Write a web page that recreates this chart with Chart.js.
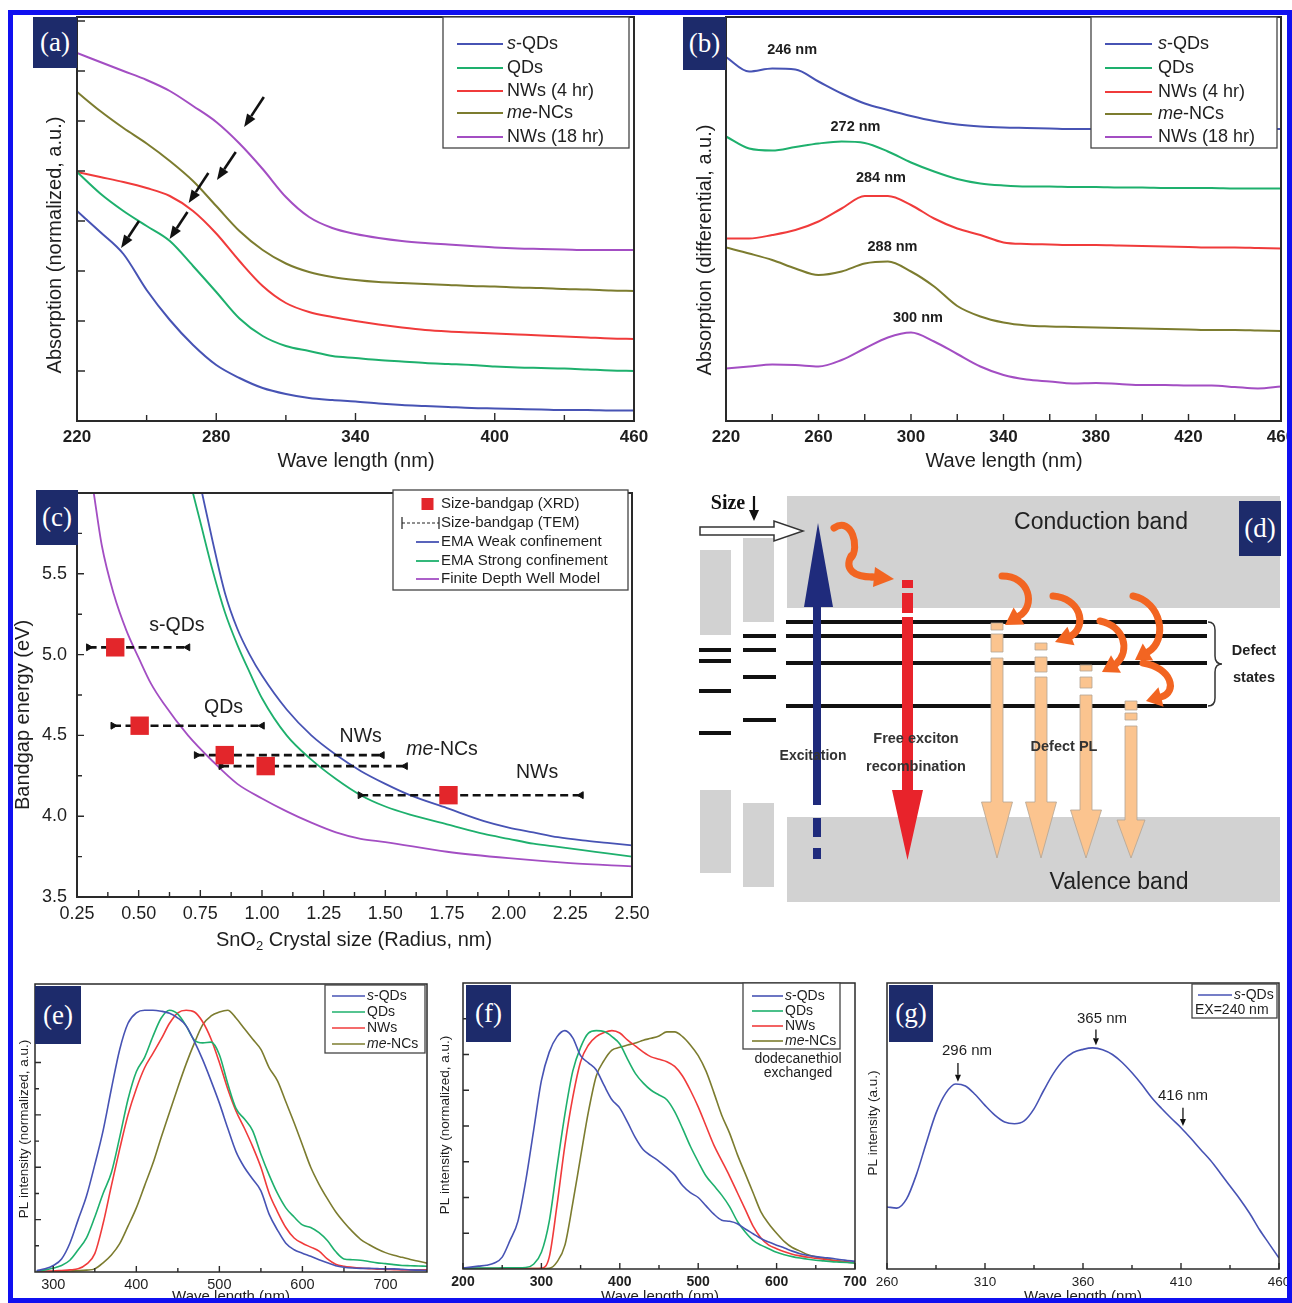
<!DOCTYPE html>
<html>
<head>
<meta charset="utf-8">
<title>SnO2 nanocrystals: absorption, bandgap and PL</title>
<script src="https://cdn.jsdelivr.net/npm/chart.js@4.4.1/dist/chart.umd.min.js"></script>
<style>
  html, body { margin: 0; background: #fff; }
  #page { position: relative; width: 1292px; height: 1303px; overflow: hidden; background: #fff; }
  #page canvas { position: absolute; }
  .tag { position: absolute; background: #1d2b6b; color: #fff; font: 27px "Liberation Serif", "Times New Roman", serif;
         line-height: 1; display: flex; align-items: center; justify-content: center; z-index: 2; }
  #frame { position: absolute; left: 8px; top: 10px; width: 1284px; height: 1293px; box-sizing: border-box;
           border: 5px solid #1010f0; z-index: 3; pointer-events: none; }
</style>
</head>
<body>
<div id="page">
  <div class="tag" style="left:33px;top:17px;width:44px;height:51px">(a)</div>
  <div class="tag" style="left:683px;top:17px;width:43px;height:53px">(b)</div>
  <div class="tag" style="left:36px;top:490px;width:42px;height:55px">(c)</div>
  <div class="tag" style="left:1239px;top:501px;width:42px;height:55px">(d)</div>
  <div class="tag" style="left:35px;top:986px;width:46px;height:58px">(e)</div>
  <div class="tag" style="left:466px;top:985px;width:45px;height:57px">(f)</div>
  <div class="tag" style="left:889px;top:985px;width:44px;height:57px">(g)</div>
  <div id="frame"></div>
</div>
<script>
// ---- data ----
// (a) absorption, normalized (arbitrary offsets)
const waveA = [220, 230, 240, 250, 260, 270, 280, 290, 300, 310, 320, 330, 340, 350, 360, 370, 380, 390, 400, 410, 420, 430, 440, 450, 460];
const absA_sQDs  = [4.2, 3.78, 3.34, 2.62, 2.02, 1.52, 1.12, 0.86, 0.66, 0.54, 0.46, 0.42, 0.39, 0.35, 0.32, 0.30, 0.28, 0.26, 0.25, 0.24, 0.23, 0.22, 0.22, 0.21, 0.21];
const absA_QDs   = [4.98, 4.55, 4.2, 3.9, 3.6, 3.1, 2.58, 2.05, 1.7, 1.5, 1.4, 1.3, 1.26, 1.22, 1.19, 1.16, 1.14, 1.12, 1.09, 1.07, 1.06, 1.05, 1.03, 1.01, 1.0];
const absA_NWs4  = [4.98, 4.88, 4.78, 4.66, 4.5, 4.2, 3.75, 3.2, 2.7, 2.36, 2.18, 2.08, 2.0, 1.93, 1.87, 1.82, 1.79, 1.77, 1.75, 1.73, 1.71, 1.69, 1.67, 1.65, 1.64];
const absA_meNCs = [6.58, 6.2, 5.86, 5.55, 5.2, 4.8, 4.3, 3.8, 3.42, 3.15, 2.98, 2.88, 2.82, 2.78, 2.76, 2.74, 2.72, 2.7, 2.69, 2.67, 2.66, 2.64, 2.63, 2.61, 2.6];
const absA_NWs18 = [7.36, 7.18, 7.0, 6.82, 6.6, 6.3, 5.98, 5.55, 5.04, 4.48, 4.08, 3.86, 3.74, 3.66, 3.6, 3.56, 3.53, 3.5, 3.47, 3.45, 3.44, 3.43, 3.42, 3.42, 3.42];

// (b) differential absorption
const waveB = waveA;
const absB_sQDs  = [7.28, 6.99, 7.05, 7.03, 6.79, 6.55, 6.35, 6.22, 6.1, 6.0, 5.93, 5.89, 5.87, 5.86, 5.85, 5.84, 5.84, 5.84, 5.84, 5.84, 5.84, 5.84, 5.84, 5.84, 5.84];
const absB_QDs   = [5.69, 5.45, 5.41, 5.48, 5.55, 5.59, 5.56, 5.39, 5.17, 4.99, 4.84, 4.75, 4.71, 4.69, 4.69, 4.68, 4.68, 4.67, 4.67, 4.66, 4.66, 4.66, 4.65, 4.65, 4.65];
const absB_NWs4  = [3.65, 3.65, 3.72, 3.82, 3.99, 4.25, 4.5, 4.5, 4.32, 4.05, 3.85, 3.72, 3.57, 3.54, 3.53, 3.52, 3.52, 3.51, 3.5, 3.49, 3.48, 3.47, 3.47, 3.46, 3.45];
const absB_meNCs = [3.47, 3.35, 3.22, 3.05, 2.92, 2.99, 3.15, 3.19, 2.99, 2.69, 2.3, 2.09, 1.97, 1.91, 1.89, 1.88, 1.87, 1.86, 1.85, 1.84, 1.83, 1.82, 1.82, 1.81, 1.8];
const absB_NWs18 = [1.05, 1.09, 1.13, 1.12, 1.09, 1.22, 1.45, 1.67, 1.77, 1.59, 1.34, 1.09, 0.92, 0.83, 0.79, 0.75, 0.76, 0.74, 0.72, 0.72, 0.71, 0.71, 0.68, 0.65, 0.69];
const peakLabelsB = ['246 nm', '272 nm', '284 nm', '288 nm', '300 nm'];

// (c) bandgap vs crystal radius
const radWeak   = [0.757, 0.8, 0.85, 0.9, 0.95, 1.0, 1.1, 1.2, 1.3, 1.4, 1.5, 1.6, 1.75, 1.9, 2.0, 2.1, 2.2, 2.3, 2.4, 2.5];
const eWeak     = [6.0, 5.7, 5.38, 5.16, 5.0, 4.87, 4.66, 4.5, 4.38, 4.28, 4.2, 4.13, 4.05, 3.97, 3.93, 3.9, 3.87, 3.85, 3.835, 3.82];
const radStrong = [0.72, 0.75, 0.8, 0.85, 0.9, 0.95, 1.0, 1.1, 1.2, 1.3, 1.4, 1.5, 1.6, 1.75, 1.9, 2.0, 2.1, 2.2, 2.3, 2.4, 2.5];
const eStrong   = [6.0, 5.82, 5.52, 5.26, 5.06, 4.89, 4.73, 4.5, 4.35, 4.23, 4.13, 4.06, 4.01, 3.95, 3.89, 3.86, 3.83, 3.81, 3.79, 3.77, 3.75];
const radWell   = [0.318, 0.35, 0.4, 0.45, 0.5, 0.55, 0.6, 0.7, 0.8, 0.9, 1.0, 1.1, 1.2, 1.3, 1.4, 1.5, 1.75, 2.0, 2.25, 2.5];
const eWell     = [6.0, 5.68, 5.37, 5.15, 4.98, 4.82, 4.7, 4.5, 4.34, 4.2, 4.11, 4.03, 3.96, 3.9, 3.86, 3.84, 3.78, 3.74, 3.71, 3.69];
const radXRD    = [0.405, 0.504, 0.849, 1.015, 1.756];
const eXRD      = [5.045, 4.56, 4.378, 4.31, 4.13];
const radTEMmin = [0.297, 0.396, 0.734, 0.834, 1.398];
const radTEMmax = [0.699, 1.001, 1.487, 1.581, 2.294];
const sampleNamesC = ['s-QDs', 'QDs', 'NWs', 'me-NCs', 'NWs'];

// (e) PL, normalized
const waveE = [280, 290, 300, 310, 320, 330, 340, 350, 360, 370, 380, 390, 400, 410, 420, 430, 440, 450, 460, 470, 480, 490, 500, 510,
               520, 530, 540, 550, 560, 570, 580, 590, 600, 610, 620, 630, 640, 650, 660, 670, 680, 690, 700, 710, 720, 730, 740, 750];
const plE_sQDs  = [0.005, 0.012, 0.025, 0.05, 0.11, 0.2, 0.29, 0.41, 0.54, 0.7, 0.85, 0.95, 0.99, 1.0, 1.0, 0.996, 0.988, 0.97, 0.94, 0.88, 0.81, 0.73, 0.645, 0.55,
                   0.46, 0.4, 0.355, 0.31, 0.22, 0.16, 0.11, 0.085, 0.072, 0.06, 0.047, 0.035, 0.024, 0.018, 0.015, 0.014, 0.014, 0.013, 0.012, 0.012, 0.01, 0.008, 0.007, 0.006];
const plE_QDs   = [0.003, 0.008, 0.015, 0.025, 0.045, 0.085, 0.13, 0.21, 0.3, 0.38, 0.515, 0.66, 0.765, 0.82, 0.9, 0.97, 1.0, 0.985, 0.94, 0.885, 0.875, 0.878, 0.83, 0.72,
                   0.625, 0.585, 0.54, 0.45, 0.37, 0.3, 0.245, 0.21, 0.18, 0.17, 0.15, 0.12, 0.078, 0.05, 0.047, 0.045, 0.04, 0.035, 0.032, 0.028, 0.025, 0.024, 0.023, 0.022];
const plE_NWs   = [0.002, 0.003, 0.004, 0.006, 0.008, 0.012, 0.03, 0.07, 0.185, 0.33, 0.47, 0.6, 0.7, 0.78, 0.835, 0.89, 0.95, 0.99, 1.0, 0.993, 0.955, 0.89, 0.8, 0.7,
                   0.615, 0.55, 0.48, 0.4, 0.3, 0.23, 0.17, 0.13, 0.11, 0.095, 0.08, 0.05, 0.03, 0.022, 0.018, 0.015, 0.013, 0.011, 0.01, 0.009, 0.008, 0.008, 0.008, 0.008];
const plE_meNCs = [0.001, 0.002, 0.002, 0.003, 0.004, 0.005, 0.007, 0.012, 0.035, 0.065, 0.108, 0.175, 0.245, 0.33, 0.415, 0.515, 0.61, 0.705, 0.795, 0.875, 0.945, 0.978, 0.993, 1.0,
                   0.97, 0.93, 0.89, 0.85, 0.78, 0.73, 0.65, 0.57, 0.485, 0.4, 0.335, 0.28, 0.23, 0.19, 0.155, 0.125, 0.105, 0.088, 0.074, 0.064, 0.056, 0.048, 0.041, 0.034];

// (f) PL after dodecanethiol exchange
const waveF = [200, 210, 220, 230, 240, 250, 260, 270, 280, 290, 300, 310, 320, 330, 340, 350, 360, 370, 380, 390, 400, 410, 420, 430, 440, 450,
               460, 470, 480, 490, 500, 510, 520, 530, 540, 550, 560, 570, 580, 590, 600, 610, 620, 630, 640, 650, 660, 670, 680, 690, 700];
const plF_sQDs  = [0.004, 0.008, 0.012, 0.016, 0.025, 0.05, 0.12, 0.2, 0.37, 0.58, 0.79, 0.91, 0.975, 1.0, 0.97, 0.895, 0.865, 0.835, 0.77, 0.71, 0.675, 0.615, 0.55, 0.5, 0.475, 0.452,
                   0.425, 0.395, 0.35, 0.32, 0.3, 0.265, 0.23, 0.205, 0.2, 0.19, 0.168, 0.148, 0.128, 0.113, 0.1, 0.088, 0.075, 0.064, 0.057, 0.052, 0.048, 0.045, 0.04, 0.036, 0.032];
const plF_QDs   = [0.003, 0.003, 0.004, 0.004, 0.004, 0.005, 0.005, 0.005, 0.006, 0.02, 0.07, 0.2, 0.43, 0.65, 0.83, 0.93, 0.99, 1.0, 0.996, 0.975, 0.944, 0.88, 0.82, 0.78, 0.75, 0.73,
                   0.71, 0.66, 0.59, 0.515, 0.45, 0.39, 0.35, 0.31, 0.262, 0.2, 0.155, 0.12, 0.1, 0.085, 0.07, 0.06, 0.052, 0.046, 0.041, 0.037, 0.034, 0.031, 0.029, 0.027, 0.025];
const plF_NWs   = [0.002, 0.002, 0.002, 0.002, 0.002, 0.002, 0.002, 0.002, 0.002, 0.002, 0.003, 0.05, 0.27, 0.52, 0.72, 0.87, 0.94, 0.975, 0.992, 1.0, 0.99, 0.96, 0.935, 0.91, 0.89, 0.88,
                   0.87, 0.85, 0.81, 0.75, 0.68, 0.6, 0.52, 0.455, 0.39, 0.32, 0.25, 0.18, 0.13, 0.1, 0.085, 0.072, 0.062, 0.055, 0.049, 0.045, 0.041, 0.037, 0.033, 0.03, 0.028];
const plF_meNCs = [0.002, 0.002, 0.002, 0.002, 0.002, 0.002, 0.002, 0.002, 0.002, 0.002, 0.002, 0.003, 0.03, 0.1, 0.276, 0.47, 0.66, 0.81, 0.875, 0.918, 0.93, 0.94, 0.948, 0.96, 0.968, 0.978,
                   0.995, 0.995, 0.975, 0.94, 0.895, 0.83, 0.74, 0.645, 0.57, 0.48, 0.4, 0.32, 0.24, 0.19, 0.15, 0.115, 0.09, 0.075, 0.06, 0.051, 0.045, 0.038, 0.033, 0.028, 0.025];

// (g) PL of s-QDs, EX = 240 nm
const waveG = [260, 265, 270, 275, 280, 285, 290, 295, 300, 305, 310, 315, 320, 325, 330, 335, 340, 345, 350, 355, 360,
               365, 370, 375, 380, 385, 390, 395, 400, 405, 410, 415, 420, 425, 430, 435, 440, 445, 450, 455, 460];
const plG_sQDs = [0.217, 0.213, 0.245, 0.33, 0.44, 0.545, 0.615, 0.647, 0.64, 0.61, 0.572, 0.538, 0.514, 0.508, 0.518, 0.56, 0.625, 0.685, 0.73, 0.757, 0.768,
                  0.773, 0.767, 0.75, 0.722, 0.686, 0.645, 0.6, 0.562, 0.527, 0.494, 0.457, 0.418, 0.38, 0.336, 0.29, 0.245, 0.195, 0.138, 0.088, 0.038];
const peakLabelsG = ['296 nm', '365 nm', '416 nm'];

// ticks
const xTicksA = [220, 280, 340, 400, 460];
const xTickLabelsA = ['220', '280', '340', '400', '460'];
const xTicksB = [220, 260, 300, 340, 380, 420, 460];
const xTickLabelsB = ['220', '260', '300', '340', '380', '420', '460'];
const xTicksC = [0.25, 0.5, 0.75, 1.0, 1.25, 1.5, 1.75, 2.0, 2.25, 2.5];
const xTickLabelsC = ['0.25', '0.50', '0.75', '1.00', '1.25', '1.50', '1.75', '2.00', '2.25', '2.50'];
const yTicksC = [3.5, 4.0, 4.5, 5.0, 5.5];
const yTickLabelsC = ['3.5', '4.0', '4.5', '5.0', '5.5'];
const xTicksE = [300, 400, 500, 600, 700];
const xTickLabelsE = ['300', '400', '500', '600', '700'];
const xTicksF = [200, 300, 400, 500, 600, 700];
const xTickLabelsF = ['200', '300', '400', '500', '600', '700'];
const xTicksG = [260, 310, 360, 410, 460];
const xTickLabelsG = ['260', '310', '360', '410', '460'];

// ---- drawing helpers ----
const SANS = '"Liberation Sans", Arial, Helvetica, sans-serif';
const SERIF = '"Liberation Serif", "Times New Roman", serif';
const f = (size, style) => (style ? style + ' ' : '') + size + 'px ' + SANS;
const fo = (size, weight) => ({ family: SANS, size: size, weight: weight || 'normal' });
const COL = { blue: '#4753b4', green: '#1eb06d', red: '#f03b3b', olive: '#7c7c2f', purple: '#a34ec3' };

function richText(ctx, segs, x, y, align) {
  let w = 0;
  segs.forEach(s => { ctx.font = s[1]; w += ctx.measureText(s[0]).width; });
  let cx = align === 'center' ? x - w / 2 : (align === 'right' ? x - w : x);
  segs.forEach(s => {
    ctx.font = s[1];
    ctx.fillText(s[0], cx, y + (s[2] || 0));
    cx += ctx.measureText(s[0]).width;
  });
}

function arrow(ctx, x1, y1, x2, y2, lw, hl, hw, color) {
  const a = Math.atan2(y2 - y1, x2 - x1);
  const bx = x2 - hl * Math.cos(a), by = y2 - hl * Math.sin(a);
  ctx.strokeStyle = color; ctx.fillStyle = color; ctx.lineWidth = lw;
  ctx.beginPath(); ctx.moveTo(x1, y1); ctx.lineTo(bx, by); ctx.stroke();
  ctx.beginPath(); ctx.moveTo(x2, y2);
  ctx.lineTo(bx + hw / 2 * Math.sin(a), by - hw / 2 * Math.cos(a));
  ctx.lineTo(bx - hw / 2 * Math.sin(a), by + hw / 2 * Math.cos(a));
  ctx.closePath(); ctx.fill();
}

function drawLegend(ctx, L, ox, oy) {
  const [x1, y1, x2, y2] = L.box;
  ctx.fillStyle = '#fff';
  ctx.fillRect(x1 - ox, y1 - oy, x2 - x1, y2 - y1);
  ctx.strokeStyle = '#444'; ctx.lineWidth = 1.3;
  ctx.strokeRect(x1 - ox, y1 - oy, x2 - x1, y2 - y1);
  L.items.forEach(it => {
    const y = it.y - oy, sx1 = L.sx[0] - ox, sx2 = L.sx[1] - ox;
    if (it.kind === 'line') {
      ctx.strokeStyle = it.color; ctx.lineWidth = L.lw; ctx.setLineDash([]);
      ctx.beginPath(); ctx.moveTo(sx1, y); ctx.lineTo(sx2, y); ctx.stroke();
    } else if (it.kind === 'rect') {
      const c = (sx1 + sx2) / 2;
      ctx.fillStyle = it.color; ctx.fillRect(c - 6, y - 6, 12, 12);
    } else if (it.kind === 'err') {
      ctx.strokeStyle = '#222'; ctx.lineWidth = 1.2;
      ctx.beginPath(); ctx.moveTo(sx1 - 14, y - 6); ctx.lineTo(sx1 - 14, y + 6);
      ctx.moveTo(sx2, y - 6); ctx.lineTo(sx2, y + 6); ctx.stroke();
      ctx.setLineDash([3, 2]);
      ctx.beginPath(); ctx.moveTo(sx1 - 14, y); ctx.lineTo(sx2, y); ctx.stroke();
      ctx.setLineDash([]);
    }
    ctx.fillStyle = '#1e1e1e'; ctx.textBaseline = 'middle'; ctx.textAlign = 'left';
    richText(ctx, it.segs, (it.tx || L.tx) - ox, y, 'left');
  });
}

// frame, inward ticks, legend, arrows and labels for a plot panel
function makeDecor(o) {
  return {
    id: 'decor',
    afterDatasetsDraw(chart) {
      const ctx = chart.ctx, a = chart.chartArea;
      const sx = chart.scales.x, sy = chart.scales.y;
      const X = v => sx.getPixelForValue(v), Y = v => sy.getPixelForValue(v);
      const ox = o.off[0], oy = o.off[1];
      ctx.save();
      ctx.setLineDash([]);
      ctx.strokeStyle = '#2a2a2a'; ctx.lineWidth = o.frame;
      ctx.strokeRect(a.left, a.top, a.right - a.left, a.bottom - a.top);
      ctx.lineWidth = o.tickW || 1.4;
      ctx.beginPath();
      (o.xMajor || []).forEach(v => { const x = X(v); ctx.moveTo(x, a.bottom); ctx.lineTo(x, a.bottom - o.tMaj); });
      (o.xMinor || []).forEach(v => { const x = X(v); ctx.moveTo(x, a.bottom); ctx.lineTo(x, a.bottom - o.tMin); });
      (o.yMajor || []).forEach(v => { const y = Y(v); ctx.moveTo(a.left, y); ctx.lineTo(a.left + o.tMaj, y); });
      (o.yMinor || []).forEach(v => { const y = Y(v); ctx.moveTo(a.left, y); ctx.lineTo(a.left + o.tMin, y); });
      ctx.stroke();
      (o.arrows || []).forEach(r => arrow(ctx, X(r[0]), Y(r[1]), X(r[2]), Y(r[3]), o.arrowStyle[0], o.arrowStyle[1], o.arrowStyle[2], '#111'));
      if (o.legend) drawLegend(ctx, o.legend, ox, oy);
      ctx.textBaseline = 'middle'; ctx.textAlign = 'left';
      (o.texts || []).forEach(t => {
        const x = t.data ? X(t.x) : t.x - ox, y = t.data ? Y(t.y) : t.y - oy;
        ctx.save();
        ctx.translate(x, y);
        if (t.rot) ctx.rotate(t.rot);
        ctx.fillStyle = t.color || '#1e1e1e';
        richText(ctx, t.segs, 0, 0, t.align || 'center');
        ctx.restore();
      });
      ctx.restore();
    }
  };
}

function curve(xs, ys, color, w) {
  return { data: xs.map((x, i) => ({ x: x, y: ys[i] })), borderColor: color, borderWidth: w,
           pointRadius: 0, fill: false, cubicInterpolationMode: 'monotone' };
}

function xAxis(min, max, ticks, labels, font, pad, h) {
  return {
    type: 'linear', min: min, max: max,
    afterBuildTicks: s => { s.ticks = ticks.map(v => ({ value: v })); },
    ticks: { font: font, color: '#1e1e1e', padding: pad, maxRotation: 0, autoSkip: false, callback: (v, i) => labels[i] },
    grid: { display: false, drawTicks: false }, border: { display: false },
    afterFit: s => { s.height = h; s.paddingLeft = 0; s.paddingRight = 0; }
  };
}
function yAxis(min, max, w, ticks, labels, font, pad) {
  const ax = {
    type: 'linear', min: min, max: max,
    grid: { display: false, drawTicks: false }, border: { display: false },
    afterFit: s => { s.width = w; s.paddingTop = 0; s.paddingBottom = 0; }
  };
  if (ticks) {
    ax.afterBuildTicks = s => { s.ticks = ticks.map(v => ({ value: v })); };
    ax.ticks = { font: font, color: '#1e1e1e', padding: pad, autoSkip: false, callback: (v, i) => labels[i] };
  } else {
    ax.ticks = { display: false };
  }
  return ax;
}

function panel(g, datasets, scales, decor, extra) {
  const cv = document.createElement('canvas');
  cv.width = g.w; cv.height = g.h;
  cv.style.left = g.left + 'px'; cv.style.top = g.top + 'px';
  cv.style.width = g.w + 'px'; cv.style.height = g.h + 'px';
  document.getElementById('page').appendChild(cv);
  if (decor) decor.off = [g.left, g.top];
  return new Chart(cv.getContext('2d'), {
    type: 'line',
    data: { datasets: datasets },
    options: {
      responsive: false, animation: false, events: [], devicePixelRatio: 1,
      layout: { padding: g.pad },
      plugins: { legend: { display: false }, tooltip: { enabled: false } },
      scales: scales
    },
    plugins: (decor ? [makeDecor(decor)] : []).concat(extra || [])
  });
}

const it = s => f(s, 'italic');
function fiveLegend(box, ys, sx, tx, size) {
  const names = [[['s', it(size)], ['-QDs', f(size)]], [['QDs', f(size)]], [['NWs (4 hr)', f(size)]],
                 [['me', it(size)], ['-NCs', f(size)]], [['NWs (18 hr)', f(size)]]];
  const cols = [COL.blue, COL.green, COL.red, COL.olive, COL.purple];
  return { box: box, sx: sx, tx: tx, lw: 2, items: names.map((n, i) => ({ y: ys[i], kind: 'line', color: cols[i], segs: n })) };
}
function fourLegend(box, ys, sx, tx, size) {
  const names = [[['s', it(size)], ['-QDs', f(size)]], [['QDs', f(size)]], [['NWs', f(size)]], [['me', it(size)], ['-NCs', f(size)]]];
  const cols = [COL.blue, COL.green, COL.red, COL.olive];
  return { box: box, sx: sx, tx: tx, lw: 1.6, items: names.map((n, i) => ({ y: ys[i], kind: 'line', color: cols[i], segs: n })) };
}

// ---- (a) ----
panel({ left: 20, top: 14, w: 640, h: 462, pad: { top: 3, right: 26, left: 0, bottom: 0 } },
  [curve(waveA, absA_sQDs, COL.blue, 2), curve(waveA, absA_QDs, COL.green, 2), curve(waveA, absA_NWs4, COL.red, 2),
   curve(waveA, absA_meNCs, COL.olive, 2), curve(waveA, absA_NWs18, COL.purple, 2)],
  { x: xAxis(220, 460, xTicksA, xTickLabelsA, fo(17, 'bold'), 6, 55), y: yAxis(0, 8.08, 57) },
  { frame: 2, tMaj: 8, tMin: 6, xMajor: xTicksA, xMinor: [250, 310, 370, 430], yMajor: [1, 2, 3, 4, 5, 6, 7, 8],
    arrowStyle: [2.6, 13, 10],
    arrows: [[246.7, 4.0, 239, 3.46], [276.6, 4.96, 268.1, 4.36], [288.4, 5.38, 280.3, 4.82], [267.6, 4.18, 259.9, 3.64], [300.5, 6.48, 292, 5.88]],
    legend: fiveLegend([443, 17, 629, 148], [44, 68, 91, 113, 137], [457, 503], 507, 18),
    texts: [{ x: 356, y: 461, segs: [['Wave length (nm)', f(20)]] },
            { x: 55, y: 245, rot: -Math.PI / 2, segs: [['Absorption (normalized, a.u.)', f(20)]] }] });

// ---- (b) ----
panel({ left: 664, top: 14, w: 628, h: 462, pad: { top: 3, right: 11, left: 0, bottom: 0 } },
  [curve(waveB, absB_sQDs, COL.blue, 2), curve(waveB, absB_QDs, COL.green, 2), curve(waveB, absB_NWs4, COL.red, 2),
   curve(waveB, absB_meNCs, COL.olive, 2), curve(waveB, absB_NWs18, COL.purple, 2)],
  { x: xAxis(220, 460, xTicksB, xTickLabelsB, fo(17, 'bold'), 6, 55), y: yAxis(0, 8.08, 62) },
  { frame: 2, tMaj: 7, tMin: 7, xMajor: xTicksB, xMinor: [240, 280, 320, 360, 400, 440],
    legend: fiveLegend([1091, 17, 1277, 148], [44, 68, 92, 114, 137], [1105, 1152], 1158, 18),
    texts: [{ x: 1004, y: 461, segs: [['Wave length (nm)', f(20)]] },
            { x: 705, y: 250, rot: -Math.PI / 2, segs: [['Absorption (differential, a.u.)', f(20)]] },
            { data: true, x: 248.6, y: 7.42, segs: [[peakLabelsB[0], f(14.5, 'bold')]] },
            { data: true, x: 276, y: 5.88, segs: [[peakLabelsB[1], f(14.5, 'bold')]] },
            { data: true, x: 287, y: 4.86, segs: [[peakLabelsB[2], f(14.5, 'bold')]] },
            { data: true, x: 292, y: 3.48, segs: [[peakLabelsB[3], f(14.5, 'bold')]] },
            { data: true, x: 303, y: 2.06, segs: [[peakLabelsB[4], f(14.5, 'bold')]] }] });

// ---- (c) ----
const dsC = [{ data: radXRD.map((x, i) => ({ x: x, y: eXRD[i] })), showLine: false, pointStyle: 'rect', pointRadius: 13,
               pointBackgroundColor: '#e3262b', pointBorderWidth: 0, borderWidth: 0 }]
  .concat(radXRD.map((_, i) => ({
    data: [{ x: radTEMmin[i], y: eXRD[i] }, { x: radTEMmax[i], y: eXRD[i] }],
    borderColor: '#111', borderWidth: 2.6, borderDash: [8, 4.5], pointStyle: 'triangle', pointRotation: [90, -90],
    pointRadius: 4, pointBackgroundColor: '#111', pointBorderColor: '#111', pointBorderWidth: 1
  })))
  .concat([curve(radWeak, eWeak, COL.blue, 1.8), curve(radStrong, eStrong, COL.green, 1.8), curve(radWell, eWell, COL.purple, 1.8)]);

panel({ left: 10, top: 480, w: 650, h: 480, pad: { top: 10, right: 28, left: 0, bottom: 0 } },
  dsC,
  { x: xAxis(0.25, 2.5, xTicksC, xTickLabelsC, fo(18), 6, 63), y: yAxis(3.5, 6.0, 67, yTicksC, yTickLabelsC, fo(18), 10) },
  { frame: 2, tMaj: 7, tMin: 5, xMajor: xTicksC, xMinor: [0.375, 0.625, 0.875, 1.125, 1.375, 1.625, 1.875, 2.125, 2.375],
    yMajor: yTicksC, yMinor: [3.75, 4.25, 4.75, 5.25, 5.75],
    legend: { box: [393, 490, 628, 590], sx: [416, 439], tx: 441, lw: 1.8, items: [
      { y: 504, kind: 'rect', color: '#e3262b', segs: [['Size-bandgap (XRD)', f(15)]] },
      { y: 523, kind: 'err', segs: [['Size-bandgap (TEM)', f(15)]] },
      { y: 542, kind: 'line', color: COL.blue, segs: [['EMA Weak confinement', f(15)]] },
      { y: 561, kind: 'line', color: COL.green, segs: [['EMA Strong confinement', f(15)]] },
      { y: 579, kind: 'line', color: COL.purple, segs: [['Finite Depth Well Model', f(15)]] }] },
    texts: [{ x: 354, y: 940, segs: [['SnO', f(20)], ['2', f(13), 6], [' Crystal size (Radius, nm)', f(20)]] },
            { x: 23, y: 715, rot: -Math.PI / 2, segs: [['Bandgap energy (eV)', f(20)]] },
            { data: true, x: 0.655, y: 5.18, segs: [[sampleNamesC[0], f(19.5)]] },
            { data: true, x: 0.844, y: 4.67, segs: [[sampleNamesC[1], f(19.5)]] },
            { data: true, x: 1.40, y: 4.49, segs: [[sampleNamesC[2], f(19.5)]] },
            { data: true, x: 1.73, y: 4.41, segs: [['me', it(19.5)], ['-NCs', f(19.5)]] },
            { data: true, x: 2.115, y: 4.27, segs: [[sampleNamesC[4], f(19.5)]] }] });

// ---- (d) energy-level schematic, drawn in page pixel units through the chart scales ----
const scheme = {
  id: 'scheme',
  afterDraw(chart) {
    const ctx = chart.ctx, sx = chart.scales.x, sy = chart.scales.y;
    const X = v => sx.getPixelForValue(v), Y = v => sy.getPixelForValue(v);
    const box = (x, y, w, h, c) => { ctx.fillStyle = c; ctx.fillRect(X(x), Y(y), X(x + w) - X(x), Y(y + h) - Y(y)); };
    const poly = (pts, fill, stroke, lw) => {
      ctx.beginPath();
      pts.forEach((p, i) => i ? ctx.lineTo(X(p[0]), Y(p[1])) : ctx.moveTo(X(p[0]), Y(p[1])));
      ctx.closePath();
      if (fill) { ctx.fillStyle = fill; ctx.fill(); }
      if (stroke) { ctx.strokeStyle = stroke; ctx.lineWidth = lw; ctx.stroke(); }
    };
    const hl = (x1, x2, y) => { ctx.beginPath(); ctx.moveTo(X(x1), Y(y)); ctx.lineTo(X(x2), Y(y)); ctx.stroke(); };
    const txt = (s, x, y, font, color) => { ctx.fillStyle = color; ctx.font = font; ctx.textAlign = 'center'; ctx.textBaseline = 'middle'; ctx.fillText(s, X(x), Y(y)); };
    const downArrow = (cx, hw, top, headTop, halfHead, tip) => [[cx - hw, top], [cx + hw, top], [cx + hw, headTop], [cx + halfHead, headTop], [cx, tip], [cx - halfHead, headTop], [cx - hw, headTop]];
    const curl = (p0, c1, c2, p3, tip) => {
      ctx.strokeStyle = '#f26522'; ctx.fillStyle = '#f26522'; ctx.lineWidth = 7; ctx.lineCap = 'round';
      ctx.beginPath(); ctx.moveTo(X(p0[0]), Y(p0[1]));
      ctx.bezierCurveTo(X(c1[0]), Y(c1[1]), X(c2[0]), Y(c2[1]), X(p3[0]), Y(p3[1])); ctx.stroke();
      const a = Math.atan2(tip[1] - p3[1], tip[0] - p3[0]), hw = 10;
      ctx.beginPath(); ctx.moveTo(X(tip[0]), Y(tip[1]));
      ctx.lineTo(X(p3[0] + hw * Math.sin(a)), Y(p3[1] - hw * Math.cos(a)));
      ctx.lineTo(X(p3[0] - hw * Math.sin(a)), Y(p3[1] + hw * Math.cos(a)));
      ctx.closePath(); ctx.fill();
    };
    ctx.save();
    const GRAY = '#d2d2d2';
    box(787, 496, 493, 112, GRAY); box(787, 817, 493, 85, GRAY);
    box(700, 550, 31, 85, GRAY); box(700, 790, 31, 83, GRAY);
    box(743, 538, 31, 84, GRAY); box(743, 803, 31, 84, GRAY);
    ctx.strokeStyle = '#111'; ctx.lineWidth = 4;
    [650, 661, 691, 733].forEach(y => hl(699, 731, y));
    [636, 650, 677, 720].forEach(y => hl(743, 776, y));
    [622, 636, 663, 706].forEach(y => hl(786, 1207, y));
    // brace
    ctx.lineWidth = 1.5; ctx.strokeStyle = '#333';
    ctx.beginPath();
    ctx.moveTo(X(1208), Y(622)); ctx.quadraticCurveTo(X(1215), Y(622), X(1215), Y(630)); ctx.lineTo(X(1215), Y(656));
    ctx.quadraticCurveTo(X(1215), Y(664), X(1222), Y(664)); ctx.quadraticCurveTo(X(1215), Y(664), X(1215), Y(672));
    ctx.lineTo(X(1215), Y(698)); ctx.quadraticCurveTo(X(1215), Y(706), X(1208), Y(706)); ctx.stroke();
    // size arrows
    poly([[700, 527], [774, 527], [774, 521], [803, 531], [774, 541], [774, 535], [700, 535]], '#fff', '#333', 1.5);
    ctx.strokeStyle = '#111'; ctx.lineWidth = 2.2;
    ctx.beginPath(); ctx.moveTo(X(754), Y(496)); ctx.lineTo(X(754), Y(512)); ctx.stroke();
    poly([[749, 510], [759, 510], [754, 521]], '#111');
    // excitation (blue, upward)
    const NAVY = '#1f2b7c';
    poly([[813, 805], [821, 805], [821, 607], [833, 607], [818, 523], [804, 607], [813, 607]], NAVY);
    box(813, 818, 8, 19, NAVY); box(813, 848, 8, 11, NAVY);
    // free exciton recombination (red)
    const RED = '#e8232b';
    box(902, 580, 11, 8, RED); box(902, 593, 11, 20, RED);
    poly(downArrow(907.5, 5.5, 617, 790, 15.5, 860), RED);
    // defect PL (peach)
    const PEACH = '#fbc48f', EDGE = '#b3a594';
    [[997, [[623, 7], [634, 18]], 658, 802, 15.5], [1041, [[643, 7], [657, 15]], 677, 802, 15.5],
     [1086, [[665, 6], [677, 11]], 695, 810, 15.5], [1131, [[701, 9], [713, 7]], 726, 820, 14]].forEach(p => {
      p[1].forEach(d => poly([[p[0] - 6, d[0]], [p[0] + 6, d[0]], [p[0] + 6, d[0] + d[1]], [p[0] - 6, d[0] + d[1]]], PEACH, EDGE, 0.8));
      poly(downArrow(p[0], 6, p[2], p[3], p[4], 858), PEACH, EDGE, 0.8);
    });
    // relaxation curls
    curl([834, 528], [852, 516], [860, 548], [851, 558], [851, 558]);
    ctx.beginPath(); ctx.moveTo(X(851), Y(556)); ctx.bezierCurveTo(X(844), Y(570), X(855), Y(577), X(872), Y(577)); ctx.stroke();
    curl([872, 577], [874, 577], [876, 577], [874, 577], [894, 579]);
    curl([1002, 576], [1030, 576], [1036, 606], [1019, 616], [1005, 625]);
    curl([1053, 596], [1080, 598], [1088, 625], [1071, 636], [1055, 642]);
    curl([1100, 621], [1124, 626], [1131, 650], [1116, 664], [1102, 672]);
    curl([1133, 596], [1162, 602], [1168, 640], [1148, 652], [1135, 660]);
    curl([1143, 663], [1172, 668], [1178, 692], [1161, 697], [1146, 701]);
    // labels
    txt('Conduction band', 1101, 523, f(23), '#222');
    txt('Valence band', 1119, 883, f(23), '#222');
    txt('Excitation', 813, 756, f(14, 'bold'), '#333');
    txt('Free exciton', 916, 739, f(14.5, 'bold'), '#333');
    txt('recombination', 916, 767, f(14.5, 'bold'), '#333');
    txt('Defect PL', 1064, 747, f(14.5, 'bold'), '#333');
    txt('Defect', 1254, 651, f(14.5, 'bold'), '#222');
    txt('states', 1254, 678, f(14.5, 'bold'), '#222');
    txt('Size', 728, 504, 'bold 20px ' + SERIF, '#111');
    ctx.restore();
  }
};
panel({ left: 680, top: 480, w: 612, h: 440, pad: 0 }, [],
  { x: { type: 'linear', display: false, min: 680, max: 1292 }, y: { type: 'linear', display: false, min: 480, max: 920, reverse: true } },
  null, [scheme]);

// ---- (e) ----
panel({ left: 14, top: 975, w: 430, h: 328, pad: { top: 9, right: 17, left: 0, bottom: 0 } },
  [curve(waveE, plE_sQDs, COL.blue, 1.6), curve(waveE, plE_QDs, COL.green, 1.6), curve(waveE, plE_NWs, COL.red, 1.6), curve(waveE, plE_meNCs, COL.olive, 1.6)],
  { x: xAxis(278, 750, xTicksE, xTickLabelsE, fo(14.5), 4, 31), y: yAxis(0, 1.1, 21) },
  { frame: 1.5, tMaj: 6, tMin: 4, xMajor: xTicksE, xMinor: [350, 450, 550, 650], yMajor: [0.2, 0.4, 0.6, 0.8, 1.0], yMinor: [0.1, 0.3, 0.5, 0.7, 0.9],
    legend: fourLegend([325, 985, 425, 1053], [996, 1012, 1028, 1044], [332, 365], 367, 14),
    texts: [{ x: 231, y: 1297, segs: [['Wave length (nm)', f(15)]] },
            { x: 24, y: 1129, rot: -Math.PI / 2, segs: [['PL intensity (normalized, a.u.)', f(13.5)]] }] });

// ---- (f) ----
panel({ left: 440, top: 975, w: 430, h: 328, pad: { top: 8, right: 15, left: 0, bottom: 0 } },
  [curve(waveF, plF_sQDs, COL.blue, 1.6), curve(waveF, plF_QDs, COL.green, 1.6), curve(waveF, plF_NWs, COL.red, 1.6), curve(waveF, plF_meNCs, COL.olive, 1.6)],
  { x: xAxis(200, 700, xTicksF, xTickLabelsF, fo(14, 'bold'), 5, 34), y: yAxis(0, 1.2, 23) },
  { frame: 1.5, tMaj: 6, tMin: 4, xMajor: xTicksF, xMinor: [250, 350, 450, 550, 650], yMajor: [0.15, 0.3, 0.45, 0.6, 0.75, 0.9, 1.05],
    legend: fourLegend([743, 983, 840, 1049], [996, 1011, 1026, 1041], [752, 783], 785, 14),
    texts: [{ x: 798, y: 1059, segs: [['dodecanethiol', f(14)]] },
            { x: 798, y: 1073, segs: [['exchanged', f(14)]] },
            { x: 660, y: 1297, segs: [['Wave length (nm)', f(15)]] },
            { x: 445, y: 1125, rot: -Math.PI / 2, segs: [['PL intensity (normalized, a.u.)', f(13.5)]] }] });

// ---- (g) ----
panel({ left: 866, top: 975, w: 426, h: 328, pad: { top: 8, right: 13, left: 0, bottom: 0 } },
  [curve(waveG, plG_sQDs, COL.blue, 1.6)],
  { x: xAxis(260, 460, xTicksG, xTickLabelsG, fo(13.5), 5, 34), y: yAxis(0, 1.0, 21) },
  { frame: 1.5, tMaj: 6, tMin: 4, xMajor: xTicksG, xMinor: [285, 335, 385, 435],
    arrowStyle: [1.3, 7, 6],
    arrows: [[296.2, 0.72, 296.2, 0.655], [366.6, 0.837, 366.6, 0.782], [411, 0.564, 411, 0.50]],
    legend: { box: [1192, 984, 1277, 1018], sx: [1198, 1232], tx: 1234, lw: 1.6, items: [
      { y: 995, kind: 'line', color: COL.blue, segs: [['s', it(14)], ['-QDs', f(14)]] },
      { y: 1010, kind: 'none', tx: 1195, segs: [['EX=240 nm', f(14)]] }] },
    texts: [{ data: true, x: 300.8, y: 0.763, segs: [[peakLabelsG[0], f(15)]] },
            { data: true, x: 369.7, y: 0.875, segs: [[peakLabelsG[1], f(15)]] },
            { data: true, x: 411, y: 0.606, segs: [[peakLabelsG[2], f(15)]] },
            { x: 1083, y: 1297, segs: [['Wave length (nm)', f(15)]] },
            { x: 873, y: 1123, rot: -Math.PI / 2, segs: [['PL intensity (a.u.)', f(13.5)]] }] });
</script>
</body>
</html>
